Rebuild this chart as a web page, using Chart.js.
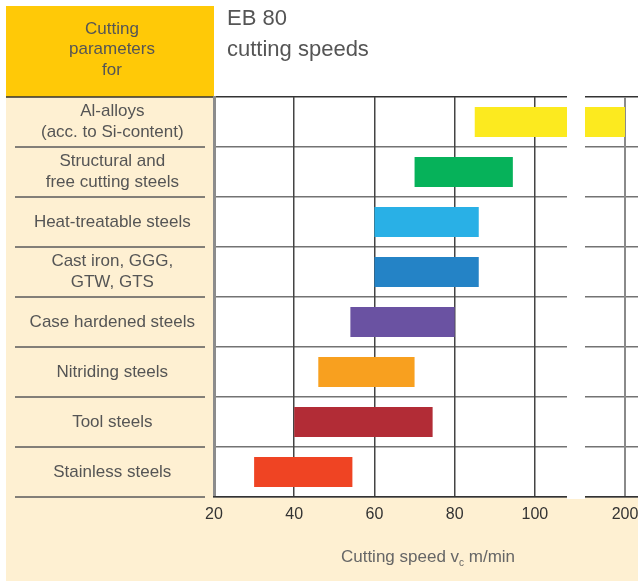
<!DOCTYPE html>
<html><head><meta charset="utf-8">
<script src="https://cdn.jsdelivr.net/npm/chart.js@4.4.1/dist/chart.umd.min.js"></script>
<style>html,body{margin:0;padding:0;background:#fff}#wrap{width:638px;height:581px;position:relative}</style>
</head><body><div id="wrap"><canvas id="c" width="638" height="581"></canvas></div>
<script>
// ---- data ----
const categories = [
  ['Al-alloys', '(acc. to Si-content)'],
  ['Structural and', 'free cutting steels'],
  'Heat-treatable steels',
  ['Cast iron, GGG,', 'GTW, GTS'],
  'Case hardened steels',
  'Nitriding steels',
  'Tool steels',
  'Stainless steels'
];
const speedMin = [85, 70, 60, 60, 54, 46, 40, 30];
const speedMax = [200, 94.5, 86, 86, 80, 70, 74.5, 54.5];
const barColors = ['#FCEA1F', '#06B25A', '#29B0E6', '#2483C6', '#6A52A2', '#F8A01F', '#B22C36', '#EF4423'];
const mainTicks = [20, 40, 60, 80, 100];
const breakTicks = [200];
const titleLines = ['EB 80', 'cutting speeds'];
const headerLines = ['Cutting', 'parameters', 'for'];
const axisTitleParts = ['Cutting speed v', 'c', ' m/min'];

// ---- styles ----
const FF = "'Liberation Sans', Arial, sans-serif";
const CREAM = '#FEF0D2';
const ORANGE = '#FFC907';
const TEXT = '#555555';

const rangeData = categories.map((c, i) => [speedMin[i], speedMax[i]]);

const decor = {
  id: 'decor',
  beforeDraw(chart) {
    const {ctx, chartArea: a, scales: {y}} = chart;
    ctx.save();
    ctx.fillStyle = '#fff';
    ctx.fillRect(0, 0, chart.width, chart.height);
    ctx.fillStyle = CREAM;
    ctx.fillRect(6, a.top, a.left - 6, chart.height - a.top);
    ctx.fillRect(6, a.bottom, chart.width - 6, chart.height - a.bottom);
    ctx.fillStyle = ORANGE;
    ctx.fillRect(6, 6, a.left - 6, a.top - 6);
    // header text
    ctx.fillStyle = TEXT;
    ctx.font = '17px ' + FF;
    ctx.textAlign = 'center';
    ctx.textBaseline = 'middle';
    headerLines.forEach((t, i) => ctx.fillText(t, 112, 29 + i * 20.5));
    // title
    ctx.textAlign = 'left';
    ctx.textBaseline = 'alphabetic';
    ctx.font = '22px ' + FF;
    ctx.fillText(titleLines[0], 227, 25);
    ctx.fillText(titleLines[1], 227, 56);
    // top line under header
    ctx.strokeStyle = '#333';
    ctx.lineWidth = 1.5;
    ctx.beginPath(); ctx.moveTo(6, a.top); ctx.lineTo(a.left, a.top); ctx.stroke();
    // label separators
    const step = y.getPixelForValue(1) - y.getPixelForValue(0);
    ctx.strokeStyle = '#5a5a5a';
    ctx.lineWidth = 1.5;
    for (let i = 0; i < categories.length; i++) {
      const yy = y.getPixelForValue(i) + step / 2;
      ctx.beginPath(); ctx.moveTo(15, yy); ctx.lineTo(205, yy); ctx.stroke();
    }
    ctx.restore();
  },
  beforeDatasetsDraw(chart) {
    const {ctx, chartArea: a, scales: {xgap}} = chart;
    ctx.save();
    ctx.fillStyle = '#fff';
    ctx.fillRect(xgap.left, a.top - 2, xgap.right - xgap.left, a.bottom - a.top + 4);
    ctx.restore();
  },
  beforeDatasetDraw(chart, args) {
    const s = args.meta.xScale, a = chart.chartArea, ctx = chart.ctx;
    ctx.save();
    ctx.beginPath();
    ctx.rect(s.left, a.top, s.right - s.left, a.bottom - a.top);
    ctx.clip();
  },
  afterDatasetDraw(chart) {
    chart.ctx.restore();
  },
  afterDraw(chart) {
    const {ctx, chartArea: a} = chart;
    ctx.save();
    ctx.fillStyle = '#666';
    ctx.textBaseline = 'alphabetic';
    ctx.textAlign = 'left';
    const big = '17px ' + FF, small = '10px ' + FF;
    ctx.font = big;
    const w1 = ctx.measureText(axisTitleParts[0]).width;
    const w3 = ctx.measureText(axisTitleParts[2]).width;
    ctx.font = small;
    const w2 = ctx.measureText(axisTitleParts[1]).width;
    const total = w1 + w2 + w3;
    let x = (a.left + a.right) / 2 + 2 - total / 2;
    const yb = 562;
    ctx.font = big; ctx.fillText(axisTitleParts[0], x, yb); x += w1;
    ctx.font = small; ctx.fillText(axisTitleParts[1], x, yb + 4); x += w2;
    ctx.font = big; ctx.fillText(axisTitleParts[2], x, yb);
    ctx.restore();
  }
};

const barDs = (id) => ({
  label: id,
  data: rangeData,
  xAxisID: id,
  yAxisID: 'y',
  backgroundColor: barColors,
  borderWidth: 0,
  grouped: false,
  barPercentage: 0.6,
  categoryPercentage: 1
});

new Chart(document.getElementById('c'), {
  type: 'bar',
  data: {labels: categories, datasets: [barDs('x'), barDs('x2')]},
  options: {
    indexAxis: 'y',
    responsive: false,
    devicePixelRatio: 1,
    animation: false,
    layout: {padding: {top: 97, left: 0, right: 0, bottom: 0}},
    plugins: {legend: {display: false}, tooltip: {enabled: false}, title: {display: false}},
    scales: {
      y: {
        type: 'category',
        position: 'left',
        offset: true,
        grid: {offset: true, drawTicks: false,
               color: (c) => c.index === 0 ? '#333' : '#737373', lineWidth: 1.6},
        border: {color: '#8c8c8c', width: 3},
        ticks: {color: TEXT, font: {family: FF, size: 17, lineHeight: 1.2}, crossAlign: 'center', padding: 19, autoSkip: false},
        afterFit(s) { s.width = 214; }
      },
      x: {
        type: 'linear', position: 'bottom', stack: 'xs', stackWeight: 353,
        min: 20, max: 108,
        afterBuildTicks(s) { s.ticks = mainTicks.map(v => ({value: v})); },
        grid: {drawTicks: false,
               color: (c) => c.tick && c.tick.value === 20 ? '#8c8c8c' : '#444',
               lineWidth: (c) => c.tick && c.tick.value === 20 ? 3 : 1.5},
        border: {color: '#333', width: 1.5},
        ticks: {color: '#333', font: {family: FF, size: 16}, padding: 8, maxRotation: 0, autoSkip: false},
        afterFit(s) { s.height = 84; s.paddingLeft = 0; s.paddingRight = 0; }
      },
      xgap: {
        type: 'linear', position: 'bottom', stack: 'xs', stackWeight: 18,
        min: 0, max: 1,
        grid: {display: false}, border: {display: false}, ticks: {display: false},
        afterFit(s) { s.height = 84; s.paddingLeft = 0; s.paddingRight = 0; }
      },
      x2: {
        type: 'linear', position: 'bottom', stack: 'xs', stackWeight: 53,
        min: 190, max: 203.25,
        afterBuildTicks(s) { s.ticks = breakTicks.map(v => ({value: v})); },
        grid: {drawTicks: false, color: '#8a8a8a', lineWidth: 2},
        border: {color: '#333', width: 1.5},
        ticks: {color: '#333', font: {family: FF, size: 16}, padding: 8, maxRotation: 0, autoSkip: false},
        afterFit(s) { s.height = 84; s.paddingLeft = 0; s.paddingRight = 0; }
      }
    }
  },
  plugins: [decor]
});
</script>
</body></html>
